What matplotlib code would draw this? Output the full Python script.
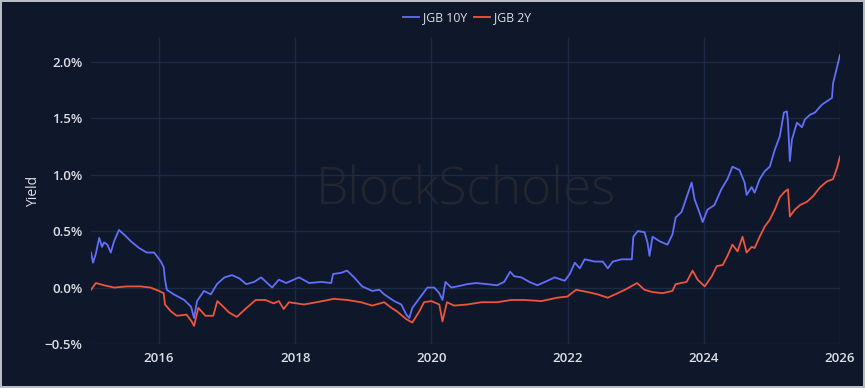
import matplotlib
matplotlib.use("Agg")
import matplotlib.pyplot as plt
import matplotlib.dates as mdates
import pandas as pd

# JGB 10Y yield (%)
jgb10_dates = [
    "2015-01-01", "2015-01-12", "2015-01-27", "2015-02-14", "2015-03-01", "2015-03-12",
    "2015-03-30", "2015-04-17", "2015-05-05", "2015-05-31", "2015-06-27", "2015-08-03",
    "2015-09-16", "2015-10-27", "2015-12-06", "2016-01-11", "2016-01-26", "2016-02-02",
    "2016-02-12", "2016-03-20", "2016-05-15", "2016-06-21", "2016-07-07", "2016-07-23",
    "2016-08-29", "2016-10-05", "2016-11-07", "2016-12-17", "2017-01-27", "2017-03-08",
    "2017-04-13", "2017-05-26", "2017-07-02", "2017-08-30", "2017-10-05", "2017-11-13",
    "2018-01-21", "2018-03-17", "2018-05-20", "2018-07-13", "2018-07-23", "2018-09-04",
    "2018-10-06", "2018-11-13", "2018-12-26", "2019-02-18", "2019-03-28", "2019-04-23",
    "2019-06-16", "2019-07-24", "2019-08-20", "2019-09-05", "2019-09-21", "2019-10-18",
    "2019-11-14", "2019-12-11", "2020-01-17", "2020-02-13", "2020-03-01", "2020-03-17",
    "2020-04-17", "2020-05-19", "2020-07-12", "2020-08-29", "2020-10-27", "2020-12-19",
    "2021-01-26", "2021-02-27", "2021-03-21", "2021-04-28", "2021-06-10", "2021-07-23",
    "2021-09-16", "2021-10-24", "2021-12-17", "2022-01-13", "2022-02-09", "2022-03-08",
    "2022-04-03", "2022-05-27", "2022-07-09", "2022-08-05", "2022-09-01", "2022-10-19",
    "2022-12-12", "2022-12-20", "2023-01-13", "2023-02-18", "2023-03-06", "2023-03-17",
    "2023-04-02", "2023-05-10", "2023-06-21", "2023-07-18", "2023-08-04", "2023-09-05",
    "2023-10-02", "2023-10-29", "2023-11-14", "2023-12-11", "2023-12-27", "2024-01-22",
    "2024-02-28", "2024-04-05", "2024-05-08", "2024-06-04", "2024-07-12", "2024-08-08",
    "2024-08-19", "2024-09-15", "2024-10-01", "2024-10-28", "2024-11-24", "2024-12-21",
    "2025-01-17", "2025-02-13", "2025-03-07", "2025-03-23", "2025-03-29", "2025-04-08",
    "2025-04-19", "2025-05-16", "2025-06-12", "2025-06-28", "2025-07-25", "2025-08-21",
    "2025-09-27", "2025-10-24", "2025-11-20", "2025-11-26", "2025-12-17", "2026-01-02",
]
jgb10_yield = [
    0.31, 0.22, 0.30, 0.44, 0.36, 0.40,
    0.38, 0.31, 0.41, 0.51, 0.47, 0.41,
    0.35, 0.31, 0.31, 0.23, 0.18, 0.07,
    -0.02, -0.06, -0.11, -0.17, -0.27, -0.12,
    -0.03, -0.06, 0.03, 0.09, 0.11, 0.08,
    0.03, 0.05, 0.09, 0.00, 0.07, 0.04,
    0.09, 0.04, 0.05, 0.04, 0.12, 0.13,
    0.15, 0.09, 0.01, -0.03, -0.02, -0.06,
    -0.12, -0.15, -0.24, -0.27, -0.18, -0.12,
    -0.06, 0.00, 0.00, -0.05, -0.11, 0.05,
    0.00, 0.01, 0.03, 0.04, 0.03, 0.02,
    0.05, 0.14, 0.10, 0.09, 0.05, 0.02,
    0.06, 0.09, 0.06, 0.12, 0.22, 0.17,
    0.25, 0.23, 0.23, 0.17, 0.23, 0.25,
    0.25, 0.45, 0.50, 0.49, 0.40, 0.28,
    0.45, 0.41, 0.38, 0.47, 0.62, 0.67,
    0.80, 0.93, 0.78, 0.66, 0.58, 0.69,
    0.73, 0.87, 0.96, 1.07, 1.04, 0.93,
    0.82, 0.89, 0.84, 0.96, 1.03, 1.07,
    1.22, 1.34, 1.55, 1.56, 1.46, 1.12,
    1.31, 1.46, 1.42, 1.49, 1.53, 1.55,
    1.62, 1.65, 1.68, 1.81, 1.95, 2.06,
]

# JGB 2Y yield (%)
jgb2_dates = [
    "2015-01-01", "2015-01-27", "2015-03-12", "2015-05-05", "2015-07-13", "2015-09-24",
    "2015-11-16", "2015-12-31", "2016-01-26", "2016-02-02", "2016-03-04", "2016-04-05",
    "2016-05-28", "2016-06-24", "2016-07-07", "2016-07-30", "2016-09-06", "2016-10-18",
    "2016-11-09", "2016-12-17", "2017-01-10", "2017-02-21", "2017-04-15", "2017-06-03",
    "2017-07-25", "2017-09-07", "2017-10-05", "2017-10-31", "2017-11-28", "2018-02-16",
    "2018-04-26", "2018-07-27", "2018-10-06", "2018-12-20", "2019-02-18", "2019-04-23",
    "2019-06-01", "2019-06-30", "2019-08-20", "2019-09-21", "2019-10-29", "2019-11-23",
    "2020-01-01", "2020-02-13", "2020-03-01", "2020-03-25", "2020-05-03", "2020-07-12",
    "2020-09-26", "2020-12-19", "2021-03-06", "2021-05-13", "2021-08-14", "2021-11-07",
    "2021-12-31", "2022-02-16", "2022-04-19", "2022-06-11", "2022-08-05", "2022-09-27",
    "2022-11-05", "2023-01-09", "2023-02-18", "2023-04-02", "2023-05-26", "2023-07-18",
    "2023-08-04", "2023-10-02", "2023-11-03", "2023-11-30", "2024-01-07", "2024-02-14",
    "2024-03-12", "2024-04-13", "2024-05-08", "2024-06-04", "2024-07-01", "2024-07-28",
    "2024-08-19", "2024-09-15", "2024-10-01", "2024-10-28", "2024-11-24", "2024-12-21",
    "2025-01-17", "2025-02-13", "2025-03-12", "2025-03-29", "2025-04-08", "2025-05-05",
    "2025-06-01", "2025-07-09", "2025-08-11", "2025-09-18", "2025-10-24", "2025-11-26",
    "2025-12-17", "2026-01-02",
]
jgb2_yield = [
    -0.02, 0.04, 0.02, 0.00, 0.01, 0.01,
    0.00, -0.03, -0.05, -0.15, -0.21, -0.25,
    -0.24, -0.30, -0.34, -0.18, -0.25, -0.25,
    -0.12, -0.18, -0.22, -0.26, -0.18, -0.11,
    -0.11, -0.14, -0.12, -0.19, -0.13, -0.15,
    -0.13, -0.10, -0.11, -0.13, -0.16, -0.13,
    -0.18, -0.21, -0.28, -0.31, -0.21, -0.13,
    -0.12, -0.15, -0.30, -0.13, -0.16, -0.15,
    -0.13, -0.13, -0.11, -0.11, -0.12, -0.09,
    -0.08, -0.02, -0.04, -0.06, -0.09, -0.05,
    -0.02, 0.04, -0.02, -0.04, -0.05, -0.03,
    0.03, 0.05, 0.15, 0.07, 0.01, 0.10,
    0.19, 0.20, 0.28, 0.38, 0.32, 0.45,
    0.31, 0.36, 0.35, 0.45, 0.54, 0.60,
    0.69, 0.80, 0.85, 0.87, 0.63, 0.69,
    0.73, 0.76, 0.81, 0.89, 0.94, 0.96,
    1.06, 1.16,
]

y_ticks = [-0.5, 0.0, 0.5, 1.0, 1.5, 2.0]

bg = "#0f182b"
grid_col = "#1d2a45"
text_col = "#dcdfe6"

plt.rcParams["font.family"] = ["Open Sans", "DejaVu Sans"]

fig = plt.figure(figsize=(8.65, 3.88), dpi=100)
fig.patch.set_facecolor(bg)
fig.patch.set_edgecolor("#b8bcc4")
fig.patch.set_linewidth(1.5)
ax = fig.add_axes([91 / 865, 1 - 344 / 388, (840 - 91) / 865, (344 - 38) / 388])
ax.set_facecolor(bg)

d10 = pd.to_datetime(jgb10_dates)
d2 = pd.to_datetime(jgb2_dates)
ax.plot(d10, jgb10_yield, color="#636efa", lw=1.3, label="JGB 10Y", zorder=3)
ax.plot(d2, jgb2_yield, color="#ef553b", lw=1.3, label="JGB 2Y", zorder=3)

ax.set_xlim(d10[0], d10[-1])
ax.set_ylim(-0.5, 2.21)
ax.set_yticks(y_ticks)
ax.set_yticklabels([f"{v:.1f}%".replace("-", "\u2212") for v in y_ticks])
ax.xaxis.set_major_locator(mdates.YearLocator(base=2))
ax.xaxis.set_major_formatter(mdates.DateFormatter("%Y"))

ax.grid(True, color=grid_col, lw=1.0, zorder=0)
for s in ax.spines.values():
    s.set_visible(False)
ax.tick_params(length=0, colors=text_col, labelsize=9.5, pad=6)
for lab in ax.get_xticklabels() + ax.get_yticklabels():
    lab.set_fontweight("semibold")

ax.set_ylabel("Yield", color=text_col, fontsize=10, labelpad=3)

# faint watermark
ax.text(0.5, 0.5, "BlockScholes", transform=ax.transAxes, ha="center", va="center",
        fontsize=37, fontweight="light", color="#24262f", zorder=1)

leg = fig.legend(loc="center", bbox_to_anchor=(467 / 865, 1 - 18 / 388), ncol=2,
                 frameon=False, fontsize=8.8, handlelength=1.3, handletextpad=0.3,
                 columnspacing=0.6)
for t in leg.get_texts():
    t.set_color(text_col)

fig.savefig("out.png", dpi=100, facecolor=bg, edgecolor=fig.get_edgecolor())
